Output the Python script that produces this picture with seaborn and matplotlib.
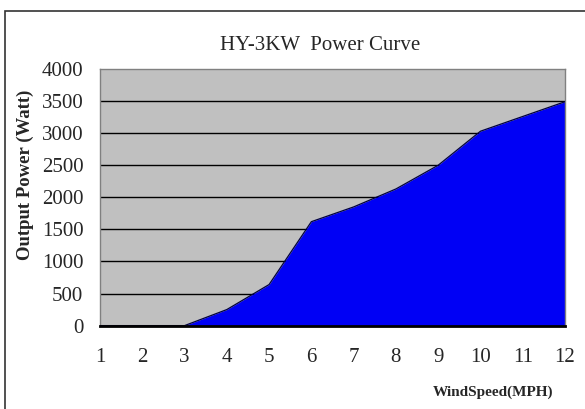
import numpy as np
import pandas as pd
import matplotlib
matplotlib.use("Agg")
import matplotlib.pyplot as plt
import seaborn as sns
from matplotlib.patches import Rectangle

# =====================================================
# DATA
# =====================================================

wind_speed = [1, 2, 3, 4, 5, 6, 7, 8, 9, 10, 11, 12]
power_watt = [0, 0, 0, 250, 640, 1620, 1850, 2130, 2500, 3030, 3260, 3490]
y_ticks = [0, 500, 1000, 1500, 2000, 2500, 3000, 3500, 4000]

df = pd.DataFrame({"WindSpeed": wind_speed, "Power": power_watt})

# =====================================================
# PLOT
# =====================================================

sns.set_theme(style="white")
plt.rcParams["font.family"] = ["Liberation Serif", "DejaVu Serif"]

fig = plt.figure(figsize=(5.85, 4.09), dpi=100)
fig.patch.set_facecolor("white")

# outer frame of the chart area
fig.patches.append(Rectangle(
    (5 / 585, -0.05), 1.1, 1 - 11 / 409 + 0.05,
    transform=fig.transFigure, fill=False,
    edgecolor="#333333", linewidth=1.2
))

ax = fig.add_axes([100 / 585, 1 - 325.6 / 409, 465 / 585, 256.6 / 409])
ax.set_facecolor("#C0C0C0")

for t in y_ticks[1:-1]:
    ax.axhline(t, color="black", linewidth=1.0, zorder=1)

ax.fill_between(df["WindSpeed"], 0, df["Power"],
                color="#0000F5", zorder=2, linewidth=0)
sns.lineplot(data=df, x="WindSpeed", y="Power", ax=ax,
             color="#000040", linewidth=0.9, zorder=3)

ax.set_xlim(1, 12)
ax.set_ylim(0, 4000)
ax.set_xticks(wind_speed)
ax.set_xticklabels([str(v) for v in wind_speed], fontsize=15)
ax.set_yticks(y_ticks)
ax.set_yticklabels([str(v) for v in y_ticks], fontsize=15)

ax.tick_params(axis="x", direction="in", length=7, width=1,
               color="black", pad=16)
ax.tick_params(axis="y", length=0, pad=12)

for side in ["top", "right", "left"]:
    ax.spines[side].set_color("#808080")
    ax.spines[side].set_linewidth(1.0)
ax.spines["bottom"].set_color("black")
ax.spines["bottom"].set_linewidth(2)
ax.spines["bottom"].set_zorder(4)

ax.set_xlabel("")
ax.set_ylabel("")

fig.text(320 / 585, 1 - 45 / 409, "HY-3KW  Power Curve",
         ha="center", va="center", fontsize=15)
fig.text(25 / 585, 1 - 175 / 409, "Output Power (Watt)",
         ha="center", va="center", rotation=90,
         fontsize=13.5, fontweight="bold")
fig.text(553 / 585, 1 - 392 / 409, "WindSpeed(MPH)",
         ha="right", va="center", fontsize=11, fontweight="bold")

fig.savefig("out.png", dpi=100)
